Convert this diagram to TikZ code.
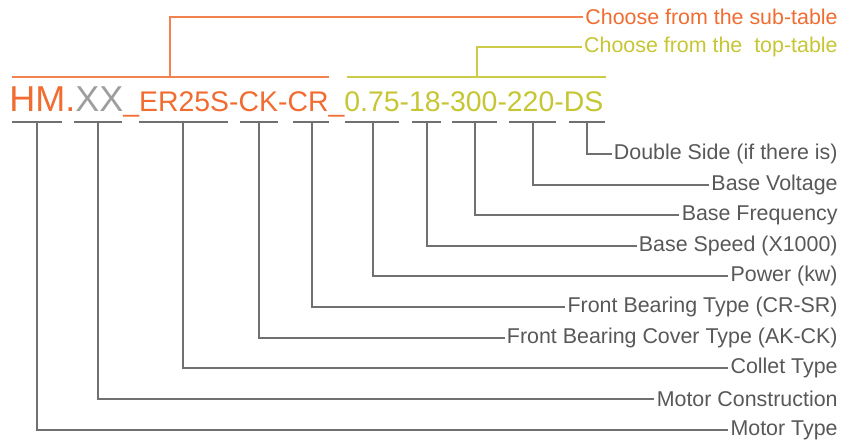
\documentclass[tikz,border=0pt]{standalone}
\usepackage{fontspec}
\setmainfont{Liberation Sans}
\definecolor{codeOrange}{RGB}{240,108,48}
\definecolor{codeGray}{RGB}{158,158,158}
\definecolor{codeYellow}{RGB}{198,198,52}
\definecolor{labelGray}{RGB}{88,88,88}
\definecolor{lineGray}{RGB}{112,112,112}
\begin{document}
\begin{tikzpicture}[x=0.5pt, y=-0.5pt,
    lbl/.style={anchor=east, inner sep=1pt, text=labelGray, font=\fontsize{10.7}{12}\selectfont},
    glink/.style={draw=lineGray, line width=0.6pt},
    olink/.style={draw=codeOrange!85, line width=0.7pt},
    ylink/.style={draw=codeYellow!90, line width=0.7pt}]
  \useasboundingbox (0,0) rectangle (858,447);
  % the code itself
  \node[anchor=base west, inner sep=0pt] (code) at (9,111) {%
    \fontsize{18}{20}\selectfont\color{codeOrange}HM.\color{codeGray}XX%
    \fontsize{14.2}{15}\selectfont\color{codeOrange}\_ER25S-CK-CR\_\color{codeYellow}0.75-18-300-220-DS};
  % group brackets above
  \draw[olink] (12,77) -- (329,77);
  \draw[ylink] (347,77) -- (606,77);
  \coordinate (oTop) at (170,77);
  \coordinate (yTop) at (477,77);
  \node[lbl, text=codeOrange] (subTab) at (840,17) {Choose from the sub-table};
  \node[lbl, text=codeYellow] (topTab) at (840,47) {Choose from the\ \ top-table};
  \draw[olink] (oTop) |- (subTab.west);
  \draw[ylink] (yTop) |- (topTab.west);
  % underlines below each field, with their legends
  \foreach \a/\b/\m/\n/\y/\txt in {
      12/62/37/mt/430/Motor Type,
      74/122/98/mc/399/Motor Construction,
      139/228/183/ct/368/Collet Type,
      240/278/259/fc/338/Front Bearing Cover Type (AK-CK),
      293/329/312/fb/307/Front Bearing Type (CR-SR),
      345/399/373/pw/276/Power (kw),
      412/441/427/bs/246/Base Speed (X1000),
      452/497/475/bf/215/Base Frequency,
      509/556/533/bv/185/Base Voltage,
      569/605/587/ds/154/Double Side (if there is)} {
    \draw[glink] (\a,122) -- (\b,122);
    \coordinate (u\n) at (\m,122);
    \node[lbl] (l\n) at (840,\y) {\txt};
    \draw[glink] (u\n) |- (l\n.west);
  }
\end{tikzpicture}
\end{document}
